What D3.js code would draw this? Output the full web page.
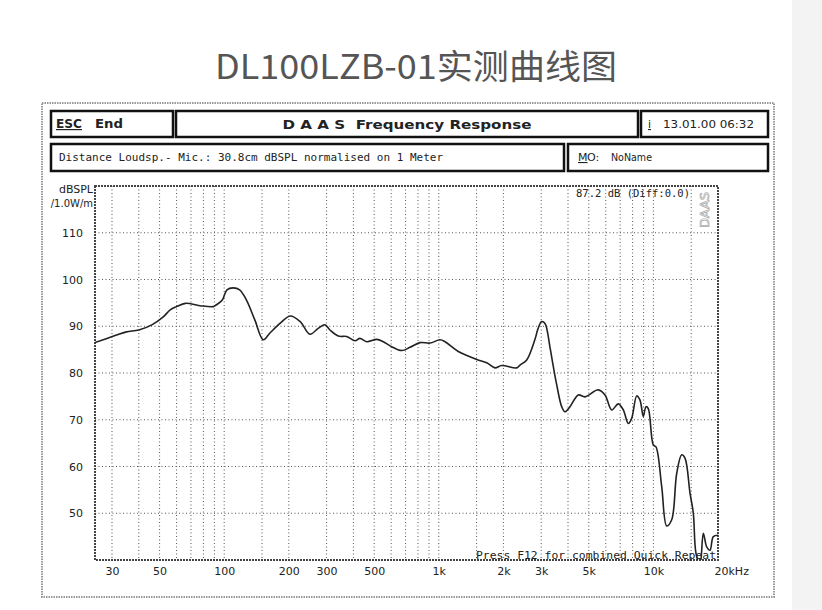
<!DOCTYPE html>
<html><head><meta charset="utf-8">
<script src="https://cdn.jsdelivr.net/npm/d3@7"></script>
<style>body{margin:0;background:#fff}svg{display:block}text{white-space:pre}</style>
</head><body>
<script>
// ---- data ----
const freqs = [25,31,35,40,46,52,56,60,66,77,89,92,98,103,110,118,127,139,152,163,182,203,226,251,275,295,311,340,372,407,429,461,514,551,593,672,734,817,910,1013,1069,1233,1502,1672,1828,1964,2307,2390,2568,2806,2900,3015,3125,3297,3416,3543,3738,3873,4087,4468,4799,5537,5950,6392,6863,7240,7640,7922,8360,8661,8973,9237,9467,9990,10283,10932,11535,12170,12840,13550,14037,14812,15346,15795,16490,17085,17717,18355,19017,20000];
const spl = [86.5,88.0,88.8,89.2,90.3,92.0,93.5,94.2,94.9,94.4,94.2,94.6,95.6,97.8,98.2,97.8,95.6,91.3,87.1,88.5,90.6,92.2,91.0,88.3,89.6,90.3,89.2,87.9,87.8,86.9,87.4,86.7,87.2,86.7,85.8,84.8,85.5,86.5,86.4,87.1,86.7,84.6,82.9,82.2,81.1,81.6,81.1,81.7,82.8,87.2,89.5,91.0,90.6,85.5,81.4,77.5,72.8,71.7,72.8,75.3,74.9,76.4,75.3,72.1,73.4,72.1,69.2,70.3,75.1,74.2,70.7,72.8,72.4,64.6,64.2,55.7,47.3,48.6,58.5,62.5,61.8,54.3,50.0,41.4,39.0,45.7,42.8,42.1,45.0,45.3];
const gridFreqs = [30,40,50,60,70,80,90,100,150,200,300,400,500,600,700,800,900,1000,1500,2000,3000,4000,5000,6000,7000,8000,9000,10000,15000];
const xTickValues = [30,50,100,200,300,500,1000,2000,3000,5000,10000,20000];
const xTickLabels = ["30","50","100","200","300","500","1k","2k","3k","5k","10k","20kHz"];
const yTickValues = [50,60,70,80,90,100,110];
const yTickLabels = ["50","60","70","80","90","100","110"];

const W = 822, H = 610;
const svg = d3.select("body").append("svg").attr("width", W).attr("height", H);

// right light band
svg.append("rect").attr("x", 792).attr("y", 0).attr("width", 30).attr("height", H).attr("fill", "#f3f3f3");

// title
svg.append("text").attr("x", 416).attr("y", 79).attr("text-anchor", "middle")
  .attr("font-family", "'Noto Sans CJK SC','Noto Sans',sans-serif").attr("font-size", 34)
  .attr("fill", "#555").attr("textLength", 402).attr("lengthAdjust", "spacingAndGlyphs")
  .text("DL100LZB-01实测曲线图");

// outer frame
svg.append("rect").attr("x", 42).attr("y", 103).attr("width", 732).attr("height", 494)
  .attr("fill", "none").attr("stroke", "#999").attr("stroke-width", 2).attr("stroke-dasharray", "1.5,1");

// header boxes
const boxes = [[51,111,173,137],[176,111,638,137],[641,111,768,137],[51,144,564,171],[568,144,768,171]];
boxes.forEach(b => {
  svg.append("rect").attr("x", b[0]).attr("y", b[1]).attr("width", b[2]-b[0]).attr("height", b[3]-b[1])
    .attr("fill", "#fff").attr("stroke", "#111").attr("stroke-width", 2.5);
});
const sans = "'DejaVu Sans',sans-serif", mono = "'DejaVu Sans Mono',monospace";
function txt(x, y, s, o = {}) {
  const t = svg.append("text").attr("x", x).attr("y", y).text(s)
    .attr("font-family", o.family || sans).attr("font-size", o.size || 11)
    .attr("font-weight", o.weight || "normal").attr("fill", o.fill || "#222")
    .attr("text-anchor", o.anchor || "start");
  if (o.len) t.attr("textLength", o.len).attr("lengthAdjust", "spacingAndGlyphs");
  if (o.ul) t.attr("text-decoration", "underline");
  return t;
}
txt(56, 128, "ESC", {weight: "bold", size: 12, len: 26, ul: true});
txt(95, 128, "End", {weight: "bold", size: 12, len: 28});
txt(407, 129, "D A A S  Frequency Response", {weight: "bold", size: 12, anchor: "middle", len: 249});
txt(648, 128, "i", {size: 11, ul: true});
txt(663, 128, "13.01.00 06:32", {size: 11, len: 91});
txt(59, 161, "Distance Loudsp.- Mic.: 30.8cm dBSPL normalised on 1 Meter", {family: mono, size: 11, len: 384});
txt(578, 161, "M", {size: 11, ul: true});
txt(587, 161, "O:", {size: 11});
txt(611, 161, "NoName", {size: 11, len: 41});

// scales
const x = d3.scaleLog().domain([25, 20000]).range([95, 718]);
const y = d3.scaleLinear().domain([40, 120]).range([560, 186]);

// grid
const g = svg.append("g");
g.selectAll("line.vg").data(gridFreqs).join("line").attr("class", "vg")
  .attr("x1", d => x(d)).attr("x2", d => x(d)).attr("y1", 186).attr("y2", 560)
  .attr("stroke", "#555").attr("stroke-width", 1).attr("stroke-dasharray", "1,2.5");
g.selectAll("line.hg").data(yTickValues).join("line").attr("class", "hg")
  .attr("x1", 95).attr("x2", 718).attr("y1", d => y(d)).attr("y2", d => y(d))
  .attr("stroke", "#555").attr("stroke-width", 1).attr("stroke-dasharray", "1,2.5");

// axes labels
const xAxis = d3.axisBottom(x).tickValues(xTickValues).tickSize(0).tickPadding(0)
  .tickFormat((d, i) => xTickLabels[i]);
const xg = svg.append("g").attr("transform", "translate(0,567)").call(xAxis);
xg.select(".domain").remove();
xg.selectAll("text").attr("font-family", sans).attr("font-size", 11).attr("fill", "#222").attr("dy", "0.71em");
xg.selectAll("text").filter((d, i) => i === xTickLabels.length - 1).attr("text-anchor", "start").attr("dx", -4);

const yAxis = d3.axisLeft(y).tickValues(yTickValues).tickSize(0).tickPadding(12)
  .tickFormat((d, i) => yTickLabels[i]);
const yg = svg.append("g").attr("transform", "translate(95,0)").call(yAxis);
yg.select(".domain").remove();
yg.selectAll("text").attr("font-family", sans).attr("font-size", 11).attr("fill", "#222");

txt(93, 193, "dBSPL", {anchor: "end", size: 11});
txt(93, 207, "/1.0W/m", {anchor: "end", size: 10});

// plot border
svg.append("rect").attr("x", 95).attr("y", 186).attr("width", 623).attr("height", 374)
  .attr("fill", "none").attr("stroke", "#444").attr("stroke-width", 2).attr("stroke-dasharray", "2,1");

// annotations
txt(576, 197, "87.2 dB (Diff:0.0)", {family: mono, size: 11, len: 114});
svg.append("text").attr("transform", "translate(709,210) rotate(-90)").attr("text-anchor", "middle")
  .attr("font-family", sans).attr("font-size", 13).attr("fill", "none").attr("stroke", "#aaa")
  .attr("stroke-width", 0.7).text("DAAS");
txt(476, 559, "Press F12 for combined Quick Repeat", {family: mono, size: 11, len: 240});

// curve
svg.append("clipPath").attr("id", "clip").append("rect").attr("x", 95).attr("y", 186).attr("width", 623).attr("height", 374);
const pts = freqs.map((f, i) => [f, spl[i]]);
const line = d3.line().x(d => x(d[0])).y(d => y(d[1])).curve(d3.curveCatmullRom.alpha(0.5));
svg.append("path").attr("d", line(pts)).attr("clip-path", "url(#clip)")
  .attr("fill", "none").attr("stroke", "#222").attr("stroke-width", 1.6);
</script>
</body></html>
